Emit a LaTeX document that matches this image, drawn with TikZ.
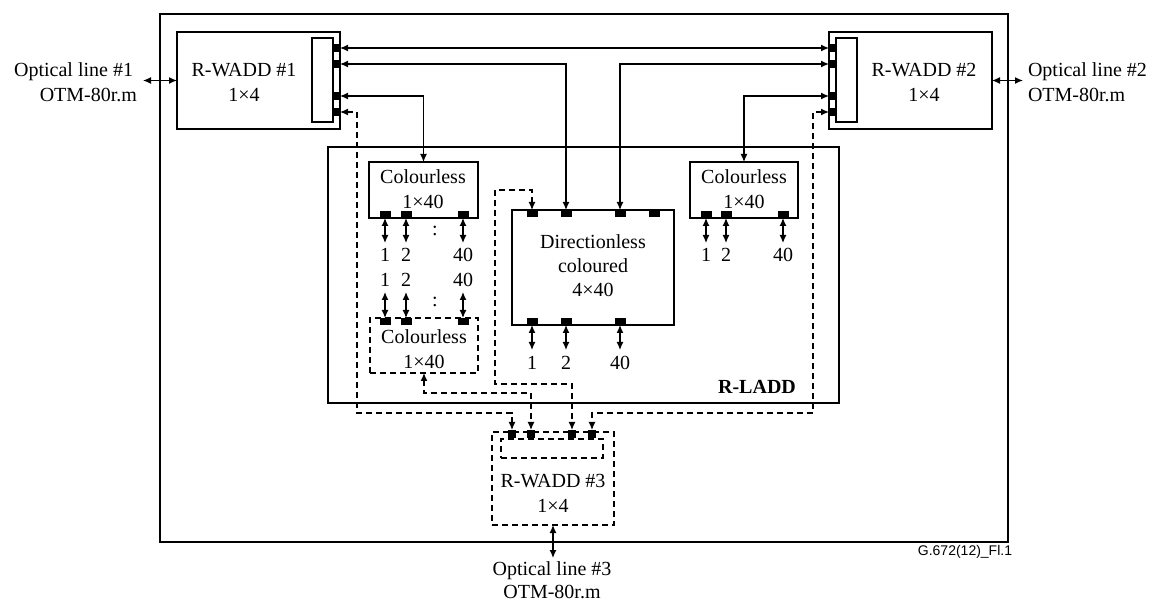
\documentclass[tikz,border=0pt]{standalone}
\usepackage{fontspec}
\setmainfont{Liberation Serif}
\newfontfamily\figsans{Liberation Sans}
\usetikzlibrary{arrows.meta}
\begin{document}
\begin{tikzpicture}[x=1pt,y=-1pt,
  every node/.style={inner sep=0pt,outer sep=0pt},
  box/.style={draw,line width=1.3pt,rectangle},
  dbox/.style={box,dash pattern=on 6pt off 4pt},
  vport/.style={fill=black,minimum width=7pt,minimum height=8pt},
  hport/.style={fill=black,minimum width=11pt,minimum height=7pt},
  wport/.style={fill=black,minimum width=8pt,minimum height=8pt},
  txt/.style={font=\fontsize{20}{25}\selectfont,align=center},
  conn/.style={line width=1.3pt,{Latex[length=8pt,width=7pt]}-{Latex[length=8pt,width=7pt]}},
  dconn/.style={conn,dash pattern=on 6pt off 4pt},
]
\useasboundingbox (0,0) rectangle (1154,601);

% outer frame
\node[box,minimum width=848,minimum height=528] (outer) at (584,278) {};

% R-WADD #1
\node[box,minimum width=163,minimum height=97] (w1) at (258.5,80.5) {};
\node[box,minimum width=21,minimum height=84] (w1in) at (322.5,80) {};
\foreach \n/\y in {a/48,b/64,c/96,d/112} \node[vport] (p1\n) at (336.5,\y) {};
\node[txt] (w1t) at (244,82.5) {R-WADD \#1\\1×4};

% R-WADD #2
\node[box,minimum width=163,minimum height=97] (w2) at (910.5,80.5) {};
\node[box,minimum width=21,minimum height=84] (w2in) at (846.5,80) {};
\foreach \n/\y in {a/48,b/64,c/96,d/112} \node[vport] (p2\n) at (832.5,\y) {};
\node[txt] (w2t) at (924,82.5) {R-WADD \#2\\1×4};

% R-LADD
\node[box,minimum width=511,minimum height=256] (ladd) at (583.5,275) {};
\node[font=\fontsize{20}{25}\selectfont\bfseries] (laddt) at (757,387) {R-LADD};

% Colourless left (upper)
\node[box,minimum width=109,minimum height=56] (colL) at (423.5,190) {};
\node[txt] (colLt) at (423,189.5) {Colourless\\1×40};
\foreach \n/\x in {1/385,2/406,3/463} \node[hport] (cl\n) at (\x,214.5) {};

% Colourless left (lower, dashed)
\node[dbox,minimum width=108,minimum height=55] (colL2) at (424,345.5) {};
\node[txt] (colL2t) at (424,349) {Colourless\\1×40};
\foreach \n/\x in {1/385,2/406,3/463} \node[hport] (cm\n) at (\x,321.5) {};

% Directionless
\node[box,minimum width=162,minimum height=115] (dir) at (593,267.5) {};
\node[txt,font=\fontsize{20}{24}\selectfont] (dirt) at (593,266) {Directionless\\coloured\\4×40};
\foreach \n/\x in {1/532,2/566,3/620,4/654} \node[hport] (dt\n) at (\x,213.5) {};
\foreach \n/\x in {1/532,2/566,3/620} \node[hport] (db\n) at (\x,321.5) {};

% Colourless right
\node[box,minimum width=108,minimum height=56] (colR) at (744,190) {};
\node[txt] (colRt) at (744,189.5) {Colourless\\1×40};
\foreach \n/\x in {1/706,2/726,3/783} \node[hport] (cr\n) at (\x,214.5) {};

% R-WADD #3 (dashed)
\node[dbox,minimum width=122,minimum height=93] (w3) at (553,478.5) {};
\node[dbox,minimum width=102,minimum height=19] (w3in) at (552,448.5) {};
\foreach \n/\x in {a/512,b/531,c/572,d/592} \node[wport] (w3\n) at (\x,434) {};
\node[txt] (w3t) at (553,493.5) {R-WADD \#3\\1×4};

% optical lines
\node[txt,align=right,anchor=east] (ol1) at (137,82.5) {Optical line \#1\kern4pt\\OTM-80r.m};
\node[txt,align=left,anchor=west] (ol2) at (1028,82.5) {Optical line \#2\\OTM-80r.m};
\node[txt,font=\fontsize{20}{23}\selectfont] (ol3) at (552,580.5) {Optical line \#3\\OTM-80r.m};
\draw[conn] (w1.west) -- ++(-34,0);
\draw[conn] (w2.east) -- ++(31,0);
\draw[conn] (w3.south) -- ++(0,33);

% figure id
\node[font=\figsans\fontsize{14}{16}\selectfont] (fid) at (965,552) {G.672(12)\_Fl.1};

% solid connectors
\draw[conn] (p1a.east) -- (p2a.west);
\draw[conn] (p1b.east) -| (dt2.north);
\draw[conn] (p2b.west) -| (dt3.north);
\draw[conn] (p1c.east) -| (colL.north);
\draw[conn] (p2c.west) -| (colR.north);

% short tributary arrows and labels
\foreach \n/\x/\l in {1/385/1,2/406/2,3/463/40}{
  \draw[conn] (cl\n.south) -- ++(0,25);
  \node[txt] (la\n) at (\x,255) {\l};
  \node[txt] (lb\n) at (\x,280) {\l};
  \draw[conn] (cm\n.north) -- ++(0,-26);
}
\node[txt] (colon1) at (435,231) {:};
\node[txt] (colon2) at (435,302) {:};
\foreach \n/\x/\l in {1/532/1,2/566/2,3/620/40}{
  \draw[conn] (db\n.south) -- ++(0,25);
  \node[txt] (ld\n) at (\x,363) {\l};
}
\foreach \n/\x/\l in {1/706/1,2/726/2,3/783/40}{
  \draw[conn] (cr\n.south) -- ++(0,25);
  \node[txt] (lr\n) at (\x,255) {\l};
}

% dashed connectors to R-WADD #3
\coordinate (b1) at (357,413);
\coordinate (b3) at (495,384);
\coordinate (b4) at (813,413);
\draw[dconn] (p1d.east) -| (b1) -| (w3a.north);
\draw[dconn] (colL2.south) -- ++(0,20) -| (w3b.north);
\draw[dconn] (dt1.north) -- ++(0,-20) -| (b3) -| (w3c.north);
\draw[dconn] (p2d.west) -| (b4) -| (w3d.north);
\end{tikzpicture}
\end{document}
